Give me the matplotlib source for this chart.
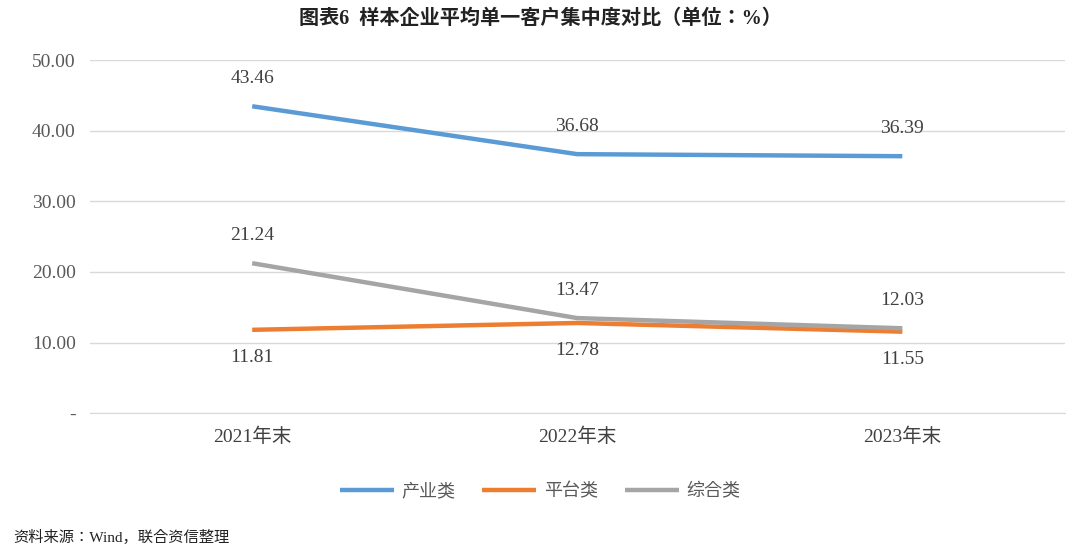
import matplotlib
matplotlib.use("Agg")
import matplotlib.pyplot as plt
from matplotlib import font_manager as fm

categories = ["2021年末", "2022年末", "2023年末"]
industry = [43.46, 36.68, 36.39]
platform = [11.81, 12.78, 11.55]
combined = [21.24, 13.47, 12.03]
yticks = [0, 10, 20, 30, 40, 50]
ylabels = ["-", "10.00", "20.00", "30.00", "40.00", "50.00"]

names = sorted({f.name for f in fm.fontManager.ttflist})
cjk = next((n for n in names if "CJK SC" in n), None) or next((n for n in names if "CJK" in n), "DejaVu Sans")
serif = "Liberation Serif"
plt.rcParams["font.family"] = [serif, cjk]

fig = plt.figure(figsize=(10.8, 5.51), dpi=100)
ax = fig.add_axes([0.083, 0.25, 0.903, 0.641])
x = [0.5, 1.5, 2.5]
ax.plot(x, industry, color="#5B9BD5", lw=3.2, label="产业类", solid_capstyle="butt")
ax.plot(x, platform, color="#ED7D31", lw=3.2, label="平台类", solid_capstyle="butt")
ax.plot(x, combined, color="#A5A5A5", lw=3.2, label="综合类", solid_capstyle="butt")
for xi, v in zip(x, industry):
    ax.annotate(f"{v:.2f}", (xi, v), xytext=(0, 14), textcoords="offset points", ha="center", va="bottom", fontsize=14, color="#404040")
for xi, v in zip(x, combined):
    ax.annotate(f"{v:.2f}", (xi, v), xytext=(0, 14), textcoords="offset points", ha="center", va="bottom", fontsize=14, color="#404040")
for xi, v in zip(x, platform):
    ax.annotate(f"{v:.2f}", (xi, v), xytext=(0, -14), textcoords="offset points", ha="center", va="top", fontsize=14, color="#404040")

ax.set_xlim(0, 3)
ax.set_ylim(0, 50)
ax.set_yticks(yticks)
ax.set_yticklabels(ylabels, fontsize=14, color="#595959")
ax.set_xticks(x)
ax.set_xticklabels(categories, fontsize=14, color="#404040")
ax.tick_params(length=0, pad=10)
ax.grid(axis="y", color="#D9D9D9", lw=1)
for s in ax.spines.values():
    s.set_visible(False)
ax.spines["bottom"].set_visible(True)
ax.spines["bottom"].set_color("#D9D9D9")

leg = fig.legend(loc="center", bbox_to_anchor=(0.5, 0.108), ncol=3, frameon=False,
                 prop={"family": [cjk], "size": 13}, handlelength=3, columnspacing=1.5, handletextpad=0.4)
for t in leg.get_texts():
    t.set_color("#595959")

fig.text(0.5, 0.965, "图表6  样本企业平均单一客户集中度对比（单位：%）", ha="center", va="center",
         fontsize=14.5, fontweight="bold", color="#222222")
fig.text(0.012, 0.025, "资料来源：Wind，联合资信整理", ha="left", va="center", fontsize=11, color="#222222")
fig.savefig("out.png", dpi=100)
